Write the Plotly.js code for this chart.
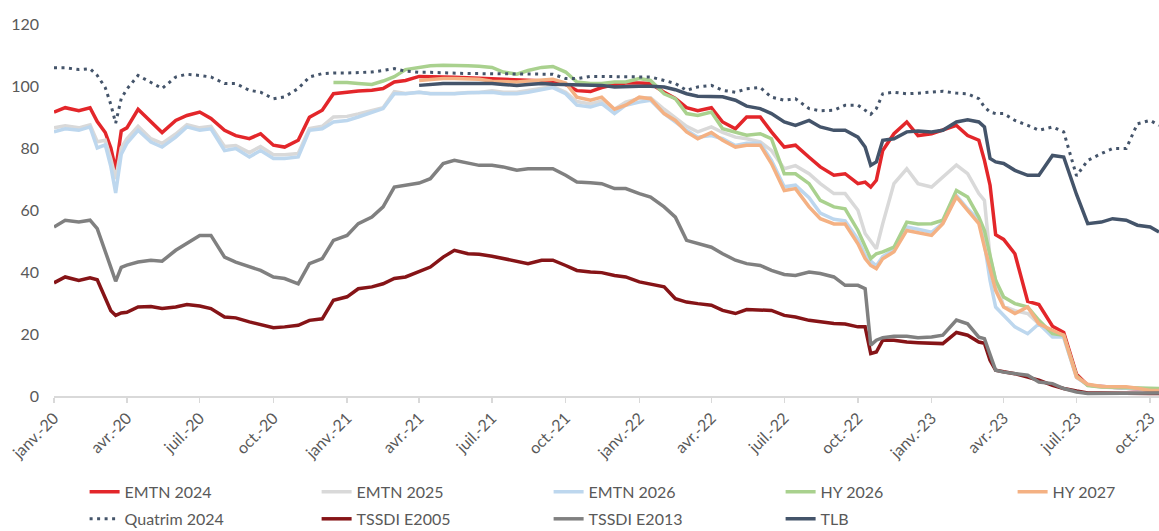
<!DOCTYPE html>
<html><head><meta charset="utf-8">
<script src="https://cdn.plot.ly/plotly-3.0.1.min.js"></script>
<style>html,body{margin:0;padding:0;background:#fff}#chart{width:1159px;height:531px}</style>
</head><body><div id="chart"></div>
<script>
const dates = [
'2020-01-01','2020-01-15','2020-02-01','2020-02-15','2020-02-24','2020-03-05','2020-03-12','2020-03-18','2020-03-25','2020-04-01',
'2020-04-15','2020-05-01','2020-05-15','2020-06-01','2020-06-15','2020-07-01','2020-07-15','2020-08-01','2020-08-15','2020-09-01',
'2020-09-15','2020-10-01','2020-10-15','2020-11-01','2020-11-15','2020-12-01','2020-12-15','2021-01-01','2021-01-15','2021-02-01',
'2021-02-15','2021-03-01','2021-03-15','2021-04-01','2021-04-15','2021-05-01','2021-05-15','2021-06-01','2021-06-15','2021-07-01',
'2021-07-15','2021-08-01','2021-08-15','2021-09-01','2021-09-15','2021-10-01','2021-10-15','2021-11-01','2021-11-15','2021-12-01',
'2021-12-15','2022-01-01','2022-01-15','2022-02-01','2022-02-15','2022-03-01','2022-03-15','2022-04-01','2022-04-15','2022-05-01',
'2022-05-15','2022-06-01','2022-06-15','2022-07-01','2022-07-15','2022-08-01','2022-08-15','2022-09-01','2022-09-15','2022-10-01',
'2022-10-10','2022-10-17','2022-10-24','2022-11-01','2022-11-15','2022-12-01','2022-12-15','2023-01-01','2023-01-15','2023-02-01',
'2023-02-15','2023-03-01','2023-03-08','2023-03-15','2023-03-22','2023-04-01','2023-04-15','2023-05-01','2023-05-15','2023-06-01',
'2023-06-15','2023-07-01','2023-07-15','2023-08-01','2023-08-15','2023-09-01','2023-09-15','2023-10-01','2023-10-12'];

const emtn2024 = [
91.6,93,92,93,88.5,85,80,73,85.5,86.5,
92.5,88.5,85,88.9,90.5,91.6,89.5,85.7,84,83,
84.6,80.9,80.3,82.5,89.9,92.2,97.5,98,98.4,98.6,
99.2,101.3,101.8,103.1,103.1,102.9,102.8,102.6,102.5,102.3,
102,101.8,101.8,101.5,101.5,100.5,98.5,98.2,99.5,100.5,
101,101,100.8,98,96,93,92,93,88.4,86.2,
90,90,85.2,80.3,80.9,77,73.9,71.2,71.7,68.5,
69,67.4,69.6,79.2,84.6,88.4,84,84.6,85.7,87.3,
84,82.5,76,68,52,50.5,45.9,30.5,29.5,22.5,
20.5,7,3.5,3,2.8,2.5,2.2,2,2];

const emtn2025 = [
86.5,87.2,86.5,87.5,82,82.5,76.5,70,80,83,
87,83,81.5,84.5,87.5,86.5,87,80.5,80.8,78.5,
80.5,77.8,77.8,78.2,86.3,87,90,90.2,91,92,
93,98.2,97.6,98,97.6,97.6,97.6,97.9,97.9,98.5,
98,98,98.5,99.2,99.8,98,95,94.2,95.2,92.5,
94.8,96,96.2,92.5,89.8,87,85.2,86.8,85,83.5,
83,82,79.2,73.3,74.3,71.7,68.5,65.3,65.3,59.9,
52.4,49.7,47.5,55.6,68.5,73.3,68.5,67.4,70.6,74.5,
71.7,65.3,63.1,44.8,37.3,28.9,27.5,26.6,23.3,20.1,
19,6,3.5,3,2.8,2.6,2.4,2.2,2.2];

const emtn2026 = [
85.2,86.2,85.7,86.8,80,81,74,65.5,78,81.5,
85.7,81.9,80.3,83.5,86.8,85.7,86.2,79.2,79.8,77.1,
79.2,76.6,76.6,77.1,85.7,86.2,88.4,88.9,90,91.6,
92.7,97.5,97.5,98,97.5,97.5,97.5,97.8,97.8,98,
97.5,97.5,98,98.8,99.5,97.5,93.8,93.2,94.3,91.1,
93.8,94.8,95.4,91.1,88.4,85.7,83.5,84,83,80.8,
81.5,81.5,76,67.5,68,64,59,57,56.5,50.5,
45.5,43.5,42,45,47.2,54.5,53.8,52.8,55.8,64.7,
60.4,56.7,49,37.3,28.7,26,22.3,20.1,23.3,19,
19,6,3.6,2.9,2.7,2.5,2.3,2.1,2];

const hy2026 = [
null,null,null,null,null,null,null,null,null,null,
null,null,null,null,null,null,null,null,null,null,
null,null,null,null,null,null,101.1,101.1,100.8,100.5,
101.6,103,105.3,106,106.5,106.7,106.7,106.5,106.4,106,
104.5,103.8,105,106,106.3,104.5,101.3,100.8,100.8,101.3,
101.3,102.4,101.8,97.5,95.9,91.1,90.5,91.6,86.2,85.2,
84.1,84.6,83,71.7,71.7,68.5,63.1,61,60.4,53.4,
48,44.3,45.9,46.5,48,56.1,55.5,55.6,56.7,66.3,
64.2,57.7,53.4,44.8,37.3,31.9,29.8,28.7,24.4,20.1,
19.6,6.5,3.4,2.9,2.8,2.6,2.5,2.4,2.4];

const hy2027 = [
null,null,null,null,null,null,null,null,null,null,
null,null,null,null,null,null,null,null,null,null,
null,null,null,null,null,null,null,null,null,null,
null,null,null,101.8,102.2,102.4,102.4,102.2,102.2,101.5,
101.3,101.3,101.6,102,102.2,101,96.4,95.4,96.4,92.5,
93.8,96.4,95.9,91.1,88.9,85.2,83,85,82.5,80.3,
80.9,80.9,75,66.3,66.9,61,57.2,55.5,55.5,49.1,
44.3,42.1,41.1,44.3,46.5,53.4,52.8,51.8,55.6,64.2,
59.9,55.6,48,40.6,34.1,28.7,26.6,28.7,23.3,21.2,
19.6,6.1,3.8,3.1,3,3,2.5,1.8,1.8];

const quatrim2024 = [
105.9,105.9,105.3,105.6,103.4,99.5,94,88,96,99,
103.4,101.3,99.2,102.9,103.8,103.4,102.9,100.8,100.8,98.6,
98,95.9,96.5,99.2,102.9,104,104.2,104.2,104.4,104.5,
105,105.6,104.8,104.4,104.4,104.2,104.2,104,104,104,
103.8,103.8,104,104,103.8,102.4,102.4,103.1,103.1,103.1,
103.1,102.9,102.9,101.8,100.8,98.6,99.7,100.2,98.6,98,
99.1,99.5,96.4,95.4,95.9,92.7,92,92.2,93.8,93.8,
92.2,90.9,92.7,97.5,98,97.5,97.7,98.1,98.3,97.7,
97.5,95.9,93.2,91.6,91.1,91.1,88.9,87.3,85.7,86.8,
85.2,71,76,78.2,79.8,79.8,87.8,88.9,87.3];

const tssdiE2005 = [
36.5,38.4,37.3,38.1,37.5,32,27.5,26,26.8,27,
28.7,28.9,28.2,28.7,29.5,29,28.2,25.5,25.2,23.9,
23.1,22,22.3,22.8,24.4,24.9,30.9,32,34.6,35.2,
36.2,37.9,38.4,40,41.6,44.8,47,45.9,45.7,45.1,
44.3,43.5,42.7,43.8,43.8,42.1,40.5,40,39.8,38.9,
38.4,36.8,36.2,35.2,31.4,30.3,29.8,29.3,27.6,26.6,
27.9,27.6,27.6,26,25.5,24.4,23.9,23.4,23.2,22.3,
22.3,13.7,14.2,18,18,17.4,17.2,16.9,16.9,20.5,
19.6,17.4,17,11.5,8.3,7.8,7.2,6.1,5.1,3.4,
2.4,1.6,1,1,0.9,0.9,0.8,0.8,0.8];

const tssdiE2013 = [
54.5,56.7,56.1,56.7,54,47,41.5,37,41.5,42.2,
43.2,43.8,43.5,47,49.1,51.8,51.8,44.8,43.2,41.6,
40.5,38.4,37.9,36.2,42.7,44.3,50.2,51.8,55.6,57.7,
61,67.4,68,68.7,70.1,75,76,75,74.4,74.4,
73.9,72.8,73.3,73.3,73.3,71.2,69,68.8,68.5,66.9,
66.9,65.3,64.2,61,57.7,50.2,49.1,48,45.9,43.8,
42.7,42.1,40.5,39.2,38.9,40,39.5,38.4,35.7,35.7,
34.6,16.4,18,18.8,19.3,19.3,18.8,19,19.6,24.5,
23.3,19,18.5,13.7,8.3,7.7,7.2,6.7,4.5,4,
2.4,1.3,0.8,0.8,0.8,0.9,0.9,1,1];

const tlb = [
null,null,null,null,null,null,null,null,null,null,
null,null,null,null,null,null,null,null,null,null,
null,null,null,null,null,null,null,null,null,null,
null,null,null,100.2,100.5,100.8,100.8,100.8,100.8,100.8,
100.5,100.2,100.5,100.8,100.6,100.5,100.4,100.2,100.2,99.7,
99.9,99.9,99.9,99.7,98.8,97.5,96.7,96.7,96.5,95.4,
93.5,92.7,91.1,88.4,87.3,88.9,86.8,85.7,85.7,83.5,
80.3,74.4,75.5,82.5,83,85.2,85.5,85.2,85.7,88.4,
89.1,88.4,86.8,76.6,75.5,75,72.8,71.2,71.2,77.6,
77.1,65,55.6,56.1,57.2,56.7,55.1,54.5,52.9];

const tickDates = ['2020-01-01','2020-04-01','2020-07-01','2020-10-01','2021-01-01','2021-04-01','2021-07-01','2021-10-01',
'2022-01-01','2022-04-01','2022-07-01','2022-10-01','2023-01-01','2023-04-01','2023-07-01','2023-10-01'];
const tickLabels = ['janv.-20','avr.-20','juil.-20','oct.-20','janv.-21','avr.-21','juil.-21','oct.-21',
'janv.-22','avr.-22','juil.-22','oct.-22','janv.-23','avr.-23','juil.-23','oct.-23'];
const yTicks = [0,20,40,60,80,100,120];

function tr(name, y, color, width, dash, legendId, lastInRow) {
  const t = {x: dates, y: y, name: name, type: 'scatter', mode: 'lines',
    line: {color: color, width: width, dash: dash || 'solid'}, hoverinfo: 'skip', legend: legendId};
  if (lastInRow) t.legendwidth = 100;
  return t;
}

const data = [
  tr('EMTN 2024', emtn2024, '#e3262a', 3.5, null, 'legend'),
  tr('EMTN 2025', emtn2025, '#d9d9d9', 3.5, null, 'legend'),
  tr('EMTN 2026', emtn2026, '#bdd7ee', 3.5, null, 'legend'),
  tr('HY 2026', hy2026, '#a9d18e', 3.5, null, 'legend'),
  tr('HY 2027', hy2027, '#f4b183', 3.5, null, 'legend', true),
  tr('Quatrim 2024', quatrim2024, '#44546a', 3, '3px,4.5px', 'legend2'),
  tr('TSSDI E2005', tssdiE2005, '#861417', 3.5, null, 'legend2'),
  tr('TSSDI E2013', tssdiE2013, '#808080', 3.5, null, 'legend2'),
  tr('TLB', tlb, '#44546a', 3.5, null, 'legend2', true)
];

const legendBase = {orientation: 'h', xref: 'container', yref: 'container', x: 0.073, xanchor: 'left', yanchor: 'top',
  entrywidth: 187, entrywidthmode: 'pixels', font: {size: 16, color: '#595959'}, traceorder: 'normal', bgcolor: 'rgba(0,0,0,0)'};

const layout = {
  width: 1159, height: 531,
  margin: {l: 54, r: 0, t: 24, b: 135, autoexpand: false},
  paper_bgcolor: '#ffffff', plot_bgcolor: '#ffffff',
  font: {family: 'Lato, sans-serif', size: 16, color: '#595959'},
  showlegend: true,
  xaxis: {type: 'date', range: ['2020-01-01', '2023-10-12'], tickmode: 'array', tickvals: tickDates, ticktext: tickLabels,
    tickangle: -45, showgrid: false, zeroline: false, showline: true, linecolor: '#d9d9d9', linewidth: 1.5,
    ticks: 'outside', ticklen: 5, tickcolor: '#d9d9d9', tickwidth: 1.5, tickfont: {size: 16, color: '#595959'}},
  yaxis: {range: [0, 120], tickmode: 'array', tickvals: yTicks, showgrid: false, zeroline: false, showline: false,
    ticks: '', ticklabelstandoff: 14, tickfont: {size: 16, color: '#595959'}},
  legend: Object.assign({}, legendBase, {y: 0.1057}),
  legend2: Object.assign({}, legendBase, {y: 0.0548})
};

Plotly.newPlot('chart', data, layout, {displayModeBar: false, staticPlot: true});
</script>
</body></html>
